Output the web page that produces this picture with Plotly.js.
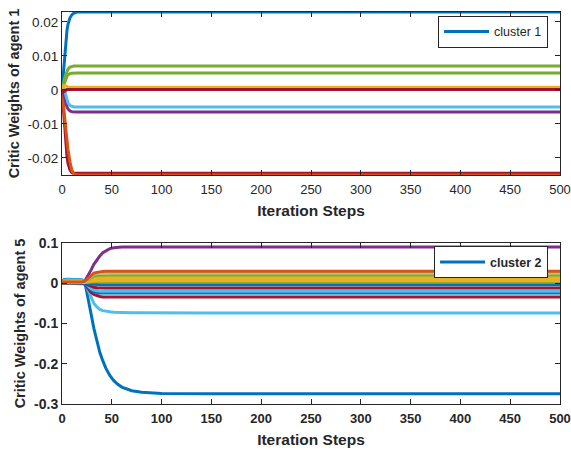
<!DOCTYPE html>
<html><head><meta charset="utf-8">
<script src="https://cdn.plot.ly/plotly-3.0.1.min.js"></script>
<style>body{margin:0;padding:0;background:#fff}#chart{width:571px;height:451px}</style>
</head><body><div id="chart"></div><script>
// ---- Top panel (agent 1, cluster 1) ----
const stepsTop = [0, 1, 2, 3, 4, 5, 6, 8, 10, 12, 15, 20, 50, 500];
const top_blue      = [0, 0.0035, 0.008, 0.012, 0.015, 0.0175, 0.0193, 0.0212, 0.0221, 0.0226, 0.0229, 0.0229, 0.0229, 0.0229];
const top_orange    = [0, -0.0025, -0.006, -0.009, -0.012, -0.015, -0.0175, -0.0212, -0.0237, -0.0247, -0.0250, -0.0250, -0.0250, -0.0250];
const top_yellow    = [0, 0.0009, 0.0013, 0.0013, 0.0011, 0.0010, 0.0009, 0.0008, 0.0008, 0.0008, 0.0008, 0.0008, 0.0008, 0.0008];
const top_purple    = [0, -0.0005, -0.0015, -0.0028, -0.0040, -0.0050, -0.0056, -0.0062, -0.0064, -0.0065, -0.0065, -0.0065, -0.0065, -0.0065];
const top_green1    = [0, 0.0010, 0.0025, 0.0038, 0.0048, 0.0056, 0.0061, 0.0067, 0.0069, 0.0070, 0.0070, 0.0070, 0.0070, 0.0070];
const top_lightblue = [0, 0.0008, 0.0005, -0.0008, -0.0020, -0.0030, -0.0038, -0.0046, -0.0049, -0.0050, -0.0050, -0.0050, -0.0050, -0.0050];
const top_darkred1  = [0, -0.0040, -0.0090, -0.0135, -0.0170, -0.0195, -0.0215, -0.0235, -0.0243, -0.0245, -0.0245, -0.0245, -0.0245, -0.0245];
const top_green2    = [0, 0.0008, 0.0018, 0.0028, 0.0035, 0.0040, 0.0044, 0.0048, 0.0049, 0.0050, 0.0050, 0.0050, 0.0050, 0.0050];
const top_darkred2  = [0, -0.0006, -0.0005, -0.0002, 0.0000, 0.0001, 0.0001, 0.0001, 0.0001, 0.0001, 0.0001, 0.0001, 0.0001, 0.0001];

// ---- Bottom panel (agent 5, cluster 2) ----
const stepsBot = [0, 2, 5, 10, 15, 20, 23, 26, 29, 32, 35, 38, 41, 44, 48, 52, 56, 60, 70, 80, 100, 150, 500];
const bot_blue1     = [0.002, 0.009, 0.010, 0.010, 0.010, 0.009, 0.002, -0.032, -0.074, -0.112, -0.145, -0.172, -0.193, -0.211, -0.229, -0.242, -0.251, -0.258, -0.267, -0.271, -0.274, -0.2745, -0.2745];
const bot_orange    = [0.003, 0.003, 0.003, 0.003, 0.003, 0.003, 0.005, 0.012, 0.019, 0.025, 0.027, 0.029, 0.0295, 0.0296, 0.0296, 0.0296, 0.0296, 0.0296, 0.0296, 0.0296, 0.0296, 0.0296, 0.0296];
const bot_yellow1   = [0.004, 0.004, 0.004, 0.004, 0.004, 0.004, 0.005, 0.008, 0.011, 0.013, 0.015, 0.016, 0.016, 0.016, 0.016, 0.016, 0.016, 0.016, 0.016, 0.016, 0.016, 0.016, 0.016];
const bot_purple    = [0.001, 0.001, 0.001, 0.001, 0.001, 0.002, 0.006, 0.018, 0.032, 0.047, 0.058, 0.068, 0.076, 0.081, 0.086, 0.088, 0.089, 0.090, 0.090, 0.090, 0.090, 0.090, 0.090];
const bot_green1    = [0.002, 0.002, 0.002, 0.002, 0.002, 0.002, 0.004, 0.009, 0.014, 0.018, 0.020, 0.0205, 0.0206, 0.0206, 0.0206, 0.0206, 0.0206, 0.0206, 0.0206, 0.0206, 0.0206, 0.0206, 0.0206];
const bot_lightblue1= [0.001, 0.007, 0.009, 0.009, 0.009, 0.008, 0.002, -0.016, -0.036, -0.050, -0.059, -0.065, -0.068, -0.070, -0.071, -0.072, -0.0725, -0.073, -0.0733, -0.0735, -0.0737, -0.0737, -0.0737];
const bot_darkred1  = [0.000, 0.000, 0.000, 0.000, 0.000, 0.000, -0.002, -0.011, -0.022, -0.028, -0.031, -0.033, -0.034, -0.034, -0.034, -0.034, -0.034, -0.034, -0.034, -0.034, -0.034, -0.034, -0.034];
const bot_blue2     = [0.002, 0.002, 0.002, 0.002, 0.002, 0.002, 0.000, -0.008, -0.016, -0.021, -0.023, -0.024, -0.024, -0.024, -0.024, -0.024, -0.024, -0.024, -0.024, -0.024, -0.024, -0.024, -0.024];
const bot_yellow2   = [0.003, 0.003, 0.003, 0.003, 0.003, 0.003, 0.004, 0.006, 0.008, 0.010, 0.011, 0.011, 0.011, 0.011, 0.011, 0.011, 0.011, 0.011, 0.011, 0.011, 0.011, 0.011, 0.011];
const bot_green2    = [0.001, 0.001, 0.001, 0.001, 0.001, 0.001, 0.002, 0.010, 0.017, 0.022, 0.024, 0.0245, 0.0246, 0.0246, 0.0246, 0.0246, 0.0246, 0.0246, 0.0246, 0.0246, 0.0246, 0.0246, 0.0246];
const bot_yellow3   = [0.002, 0.002, 0.002, 0.002, 0.002, 0.002, 0.003, 0.004, 0.005, 0.006, 0.006, 0.006, 0.006, 0.006, 0.006, 0.006, 0.006, 0.006, 0.006, 0.006, 0.006, 0.006, 0.006];
const bot_green3    = [0.001, 0.001, 0.001, 0.001, 0.001, 0.001, 0.001, 0.002, 0.003, 0.003, 0.003, 0.003, 0.003, 0.003, 0.003, 0.003, 0.003, 0.003, 0.003, 0.003, 0.003, 0.003, 0.003];
const bot_blue3     = [0.001, 0.001, 0.001, 0.001, 0.001, 0.001, 0.000, -0.001, -0.002, -0.003, -0.0035, -0.0035, -0.0035, -0.0035, -0.0035, -0.0035, -0.0035, -0.0035, -0.0035, -0.0035, -0.0035, -0.0035, -0.0035];
const bot_darkred2  = [0.000, 0.000, 0.000, 0.000, 0.000, 0.000, -0.001, -0.004, -0.008, -0.010, -0.011, -0.0117, -0.0117, -0.0117, -0.0117, -0.0117, -0.0117, -0.0117, -0.0117, -0.0117, -0.0117, -0.0117, -0.0117];
const bot_lightblue2= [0.001, 0.001, 0.001, 0.001, 0.001, 0.001, 0.000, -0.006, -0.013, -0.017, -0.019, -0.020, -0.020, -0.020, -0.020, -0.020, -0.020, -0.020, -0.020, -0.020, -0.020, -0.020, -0.020];

const xTicks = [0, 50, 100, 150, 200, 250, 300, 350, 400, 450, 500];
const xTickText = ['0', '50', '100', '150', '200', '250', '300', '350', '400', '450', '500'];
const yTopTicks = [-0.02, -0.01, 0, 0.01, 0.02];
const yTopText = ['-0.02', '-0.01', '0', '0.01', '0.02'];
const yBotTicks = [-0.3, -0.2, -0.1, 0, 0.1];
const yBotText = ['-0.3', '-0.2', '-0.1', '0', '0.1'];

const C = {blue:'#0072BD', orange:'#D95319', yellow:'#EDB120', purple:'#7E2F8E', green:'#77AC30', lightblue:'#4DBEEE', darkred:'#A2142F'};
const LW = 3;
function tr(x, y, color, ax, name, legend) {
  return {x: x, y: y, type: 'scatter', mode: 'lines', line: {color: color, width: LW},
    xaxis: ax[0], yaxis: ax[1], name: name || '', showlegend: !!name, legend: legend || 'legend', hoverinfo: 'skip'};
}
const T = ['x', 'y'], B = ['x2', 'y2'];
const data = [
  tr(stepsTop, top_blue, C.blue, T, 'cluster 1', 'legend'),
  tr(stepsTop, top_darkred1, C.darkred, T),
  tr(stepsTop, top_orange, C.orange, T),
  tr(stepsTop, top_purple, C.purple, T),
  tr(stepsTop, top_green1, C.green, T),
  tr(stepsTop, top_green2, C.green, T),
  tr(stepsTop, top_lightblue, C.lightblue, T),
  tr(stepsTop, top_yellow, C.yellow, T),
  tr(stepsTop, top_darkred2, C.darkred, T),
  tr(stepsBot, bot_blue1, C.blue, B, 'cluster 2', 'legend2'),
  tr(stepsBot, bot_purple, C.purple, B),
  tr(stepsBot, bot_lightblue1, C.lightblue, B),
  tr(stepsBot, bot_darkred1, C.darkred, B),
  tr(stepsBot, bot_blue2, C.blue, B),
  tr(stepsBot, bot_lightblue2, C.lightblue, B),
  tr(stepsBot, bot_darkred2, C.darkred, B),
  tr(stepsBot, bot_blue3, C.blue, B),
  tr(stepsBot, bot_green3, C.green, B),
  tr(stepsBot, bot_yellow3, C.yellow, B),
  tr(stepsBot, bot_yellow2, C.yellow, B),
  tr(stepsBot, bot_yellow1, C.yellow, B),
  tr(stepsBot, bot_green1, C.green, B),
  tr(stepsBot, bot_green2, '#A9C97A', B),
  tr(stepsBot, bot_orange, C.orange, B)
];

const FONT = 'Liberation Sans, Arial, Helvetica, sans-serif';
const AX = '#262626';
function axisBase(extra) {
  return Object.assign({showgrid: false, zeroline: false, showline: true, linecolor: AX, linewidth: 1,
    mirror: 'ticks', ticks: 'inside', ticklen: 5, tickcolor: AX, tickwidth: 1, tickmode: 'array'}, extra);
}
const layout = {
  width: 571, height: 451,
  margin: {l: 62, r: 11, t: 12, b: 47},
  paper_bgcolor: '#fff', plot_bgcolor: '#fff',
  font: {family: FONT, color: AX, size: 13},
  xaxis: axisBase({domain: [0, 1], anchor: 'y', range: [0, 500], tickvals: xTicks, ticktext: xTickText,
    tickfont: {size: 13, color: AX}, ticklabelstandoff: 2,
    title: {text: 'Iteration Steps', font: {size: 15.5, weight: 'bold', color: AX}, standoff: 9}}),
  yaxis: axisBase({domain: [0.5842, 1], anchor: 'x', range: [-0.0250, 0.0229], tickvals: yTopTicks, ticktext: yTopText,
    tickfont: {size: 13.5, color: AX},
    title: {text: 'Critic Weights of agent 1', font: {size: 14.5, weight: 'bold', color: AX}, standoff: 4}}),
  xaxis2: axisBase({domain: [0, 1], anchor: 'y2', range: [0, 500], tickvals: xTicks, ticktext: xTickText,
    tickfont: {size: 13, weight: 'bold', color: AX}, ticklabelstandoff: 2,
    title: {text: 'Iteration Steps', font: {size: 15.5, weight: 'bold', color: AX}, standoff: 9}}),
  yaxis2: axisBase({domain: [0, 0.4107], anchor: 'x2', range: [-0.3, 0.1], tickvals: yBotTicks, ticktext: yBotText,
    tickfont: {size: 14, weight: 'bold', color: AX},
    title: {text: 'Critic Weights of agent 5', font: {size: 14.5, weight: 'bold', color: AX}, standoff: 4}}),
  legend: {x: 0.976, y: 0.99, xanchor: 'right', yanchor: 'top', bgcolor: '#fff', bordercolor: AX, borderwidth: 1,
    font: {size: 12.5, color: AX}, itemwidth: 45, tracegroupgap: 0},
  legend2: {x: 0.976, y: 0.402, xanchor: 'right', yanchor: 'top', bgcolor: '#fff', bordercolor: AX, borderwidth: 1,
    font: {size: 12.5, weight: 'bold', color: AX}, itemwidth: 45, tracegroupgap: 0},
  showlegend: true
};
Plotly.newPlot('chart', data, layout, {staticPlot: true, displayModeBar: false});
</script></body></html>
